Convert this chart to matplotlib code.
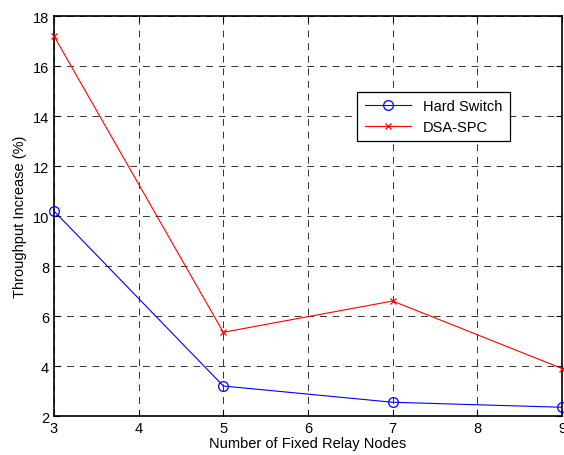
import matplotlib
matplotlib.use("Agg")
import matplotlib.pyplot as plt

plt.rcParams['font.family'] = ['Liberation Sans', 'DejaVu Sans']

nodes = [3, 5, 7, 9]
hard_switch = [10.2, 3.2, 2.55, 2.35]
dsa_spc = [17.2, 5.35, 6.6, 3.9]
xticks = [3, 4, 5, 6, 7, 8, 9]
yticks = [2, 4, 6, 8, 10, 12, 14, 16, 18]

fig = plt.figure(figsize=(5.64, 4.56), dpi=100)
ax = fig.add_axes([0.0957, 0.0855, 0.9008, 0.8772])

ax.plot(nodes, hard_switch, color='blue', lw=0.8, marker='o', markersize=7,
        markerfacecolor='none', markeredgecolor='blue', markeredgewidth=0.9,
        label='Hard Switch', clip_on=False, zorder=3)
ax.plot(nodes, dsa_spc, color='red', lw=0.8, marker='x', markersize=4,
        markeredgewidth=0.9, label='DSA-SPC', clip_on=False, zorder=3)

ax.set_xlim(3, 9)
ax.set_ylim(2, 18)
ax.set_xticks(xticks)
ax.set_yticks(yticks)
ax.grid(True, color='#333333', linestyle=(0, (7, 6)), linewidth=0.7)
ax.tick_params(direction='in', top=True, right=True, labelsize=10.5, length=4, width=0.8)
for s in ax.spines.values():
    s.set_linewidth(1.2)
ax.set_xlabel('Number of Fixed Relay Nodes', fontsize=10.5, labelpad=1)
ax.set_ylabel('Throughput Increase (%)', fontsize=10.5, labelpad=4)

leg = ax.legend(loc='upper left', bbox_to_anchor=(0.597, 0.81), fontsize=10.5,
                frameon=True, fancybox=False, edgecolor='black', framealpha=1,
                borderpad=0.5, handlelength=3.2, labelspacing=0.45, borderaxespad=0)
leg.get_frame().set_linewidth(0.9)

fig.savefig('out.png', dpi=100)
